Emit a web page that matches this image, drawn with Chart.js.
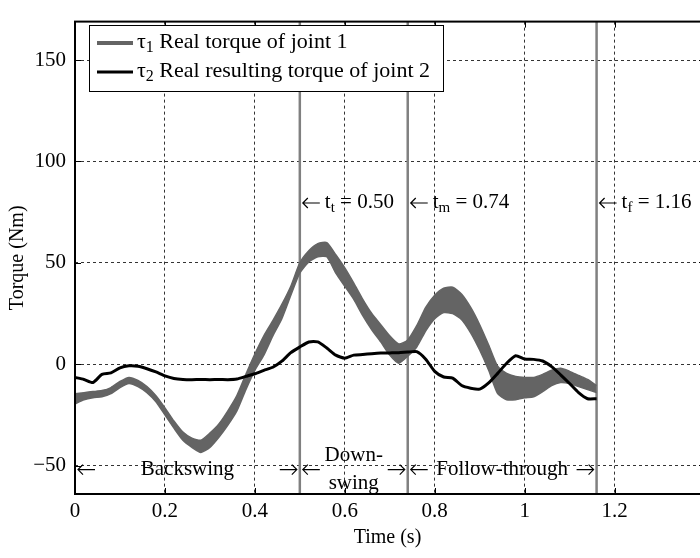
<!DOCTYPE html>
<html>
<head>
<meta charset="utf-8">
<script src="https://cdn.jsdelivr.net/npm/chart.js@4.4.1/dist/chart.umd.min.js"></script>
<style>
  html, body { margin: 0; padding: 0; background: #fff; }
  #wrap { width: 700px; height: 558px; }
</style>
</head>
<body>
<div id="wrap"><canvas id="torque-chart"></canvas></div>
<script>
// time samples (s)
const times = [0, 0.02, 0.04, 0.06, 0.08, 0.1, 0.12, 0.14, 0.16, 0.18,
  0.2, 0.22, 0.24, 0.26, 0.28, 0.3, 0.32, 0.34, 0.36, 0.38,
  0.4, 0.42, 0.44, 0.46, 0.48, 0.5, 0.52, 0.54, 0.56, 0.58,
  0.6, 0.62, 0.64, 0.66, 0.68, 0.7, 0.72, 0.74, 0.76, 0.78,
  0.8, 0.82, 0.84, 0.86, 0.88, 0.9, 0.92, 0.94, 0.96, 0.98,
  1, 1.02, 1.04, 1.06, 1.08, 1.1, 1.12, 1.14, 1.16];

// tau1 oscillates, so it is drawn as a band (upper / lower envelope)
const tau1Upper = [-14.5, -14, -13.5, -13, -11.5, -8.5, -6.5, -8, -11, -15.5,
  -21.5, -28, -33.5, -36.5, -37.5, -34, -29.5, -23, -15.5, -5,
  5, 14, 21.5, 29.5, 38.5, 50, 56, 59.5, 60, 54,
  47.5, 40, 32, 25, 19.5, 14, 10, 12, 19, 28,
  34, 37.5, 38, 34.5, 28, 19.5, 9.5, -1, -4.5, -6,
  -6.5, -6.5, -5, -3, -2, -3.5, -5.5, -7.5, -10.5];
const tau1Lower = [-19.5, -17.5, -16.5, -16, -14.5, -11.5, -9.5, -11, -14, -18.5,
  -25, -31.5, -37.5, -41, -43.5, -41, -36, -30, -23, -12.5,
  -3, 4.5, 14, 22.5, 34, 45, 50.5, 53, 53, 45,
  38.5, 32, 24, 17, 11, 4.5, 0.5, 4, 8.5, 16.5,
  22.5, 25.5, 25, 22, 15.5, 7, -3, -14.5, -17.5, -17.5,
  -16.5, -16, -13.5, -10.5, -9, -9.5, -11, -12.5, -14];
const tau2 = [-6.5, -7.5, -9, -5, -4.3, -1.8, -0.8, -1, -2.2, -3.8,
  -5.7, -7, -7.5, -7.6, -7.5, -7.6, -7.5, -7.6, -7.3, -6,
  -4.7, -3, -1.5, 1.5, 5.7, 8.5, 11, 11, 8, 4.5,
  3, 4.5, 4.8, 5.2, 5.5, 5.6, 5.7, 6, 6.2, 2.5,
  -3.5, -6.3, -6.8, -10.5, -11.8, -12.3, -9.2, -4.5, 0.5, 4.2,
  2.6, 2.4, 1.6, -1.2, -5.2, -9.5, -14, -17, -17];

const xTicks = [0, 0.2, 0.4, 0.6, 0.8, 1, 1.2];
const yTicks = [-50, 0, 50, 100, 150];

const eventTimes = [0.5, 0.74, 1.16];
const eventSubs = ['t', 'm', 'f'];
const eventTexts = [' = 0.50', ' = 0.74', ' = 1.16'];

const phaseStarts = [0, 0.5, 0.74];
const phaseEnds = [0.5, 0.74, 1.16];
const phaseNames = [['Backswing'], ['Down-', 'swing'], ['Follow-through']];

const legendSubs = ['1', '2'];
const legendTexts = [' Real torque of joint 1', ' Real resulting torque of joint 2'];

const GREY = '#646464';
const FONT = 'Liberation Serif';
Chart.defaults.font.family = FONT;
Chart.defaults.font.size = 19;
Chart.defaults.color = '#000';

// draws "base" + subscript + rest, returns x at end
function subText(ctx, x, y, base, sub, rest, size) {
  ctx.font = size + 'px ' + FONT;
  ctx.fillText(base, x, y);
  x += ctx.measureText(base).width;
  ctx.font = Math.round(size * 0.72) + 'px ' + FONT;
  ctx.fillText(sub, x, y + 6);
  x += ctx.measureText(sub).width;
  ctx.font = size + 'px ' + FONT;
  ctx.fillText(rest, x, y);
  return x + ctx.measureText(rest).width;
}

// thin arrow with its tip at xTip, pointing left (dir -1) or right (dir 1)
function arrow(ctx, xTip, y, dir) {
  const len = 17, head = 5;
  ctx.beginPath();
  ctx.moveTo(xTip - dir * len, y);
  ctx.lineTo(xTip, y);
  ctx.moveTo(xTip - dir * head, y - head);
  ctx.lineTo(xTip, y);
  ctx.lineTo(xTip - dir * head, y + head);
  ctx.stroke();
}

const overlay = {
  id: 'overlay',
  beforeDatasetsDraw(chart) {
    const { ctx, chartArea: a, scales: { x } } = chart;
    ctx.save();
    ctx.strokeStyle = '#808080';
    ctx.lineWidth = 2.5;
    eventTimes.forEach(t => {
      const px = x.getPixelForValue(t);
      ctx.beginPath();
      ctx.moveTo(px, a.top);
      ctx.lineTo(px, a.bottom);
      ctx.stroke();
    });
    ctx.restore();
  },
  afterDatasetsDraw(chart) {
    const { ctx, chartArea: a, scales: { x, y } } = chart;
    ctx.save();

    // inward tick marks
    ctx.strokeStyle = '#000';
    ctx.lineWidth = 1;
    ctx.beginPath();
    xTicks.forEach(v => {
      const px = Math.round(x.getPixelForValue(v)) + 0.5;
      ctx.moveTo(px, a.bottom); ctx.lineTo(px, a.bottom - 6);
      ctx.moveTo(px, a.top); ctx.lineTo(px, a.top + 6);
    });
    yTicks.forEach(v => {
      const py = Math.round(y.getPixelForValue(v)) + 0.5;
      ctx.moveTo(a.left, py); ctx.lineTo(a.left + 6, py);
    });
    ctx.stroke();

    // frame
    ctx.lineWidth = 2;
    ctx.strokeRect(a.left, a.top, a.right - a.left + 2, a.bottom - a.top);

    ctx.fillStyle = '#000';
    ctx.strokeStyle = '#000';
    ctx.lineWidth = 1.2;
    ctx.textBaseline = 'middle';

    // event labels
    ctx.textAlign = 'left';
    const ly = 203;
    eventTimes.forEach((t, i) => {
      const px = x.getPixelForValue(t) + 3;
      arrow(ctx, px, ly, -1);
      subText(ctx, px + 22, ly - 1, 't', eventSubs[i], eventTexts[i], 21);
    });

    // phase labels
    ctx.font = '21px ' + FONT;
    const py = y.getPixelForValue(-50) + 4;
    phaseStarts.forEach((s, i) => {
      const x0 = x.getPixelForValue(s);
      const x1 = x.getPixelForValue(phaseEnds[i]);
      arrow(ctx, x0 + 3, py, -1);
      arrow(ctx, x1 - 3, py, 1);
      ctx.textAlign = 'center';
      const names = phaseNames[i];
      const cx = (x0 + x1) / 2;
      if (names.length === 1) {
        ctx.fillText(names[0], cx, py);
      } else {
        ctx.fillText(names[0], cx, py - 14);
        ctx.fillText(names[1], cx, py + 14);
      }
    });

    // legend
    const bx = 89, by = 25, bw = 354, bh = 66;
    ctx.fillStyle = '#fff';
    ctx.fillRect(bx, by, bw, bh);
    ctx.strokeStyle = '#000';
    ctx.lineWidth = 1;
    ctx.strokeRect(bx + 0.5, by + 0.5, bw, bh);
    const rows = [{ color: GREY, w: 4 }, { color: '#000', w: 3 }];
    rows.forEach((r, i) => {
      const ry = by + 18 + i * 29;
      ctx.strokeStyle = r.color;
      ctx.lineWidth = r.w;
      ctx.beginPath();
      ctx.moveTo(bx + 8, ry);
      ctx.lineTo(bx + 44, ry);
      ctx.stroke();
      ctx.fillStyle = '#000';
      ctx.textAlign = 'left';
      subText(ctx, bx + 48, ry - 1, '\u03c4', legendSubs[i], legendTexts[i], 22);
    });

    ctx.restore();
  }
};

new Chart(document.getElementById('torque-chart'), {
  type: 'line',
  data: {
    labels: times,
    datasets: [
      {
        label: 'τ2 Real resulting torque of joint 2',
        data: tau2,
        borderColor: '#000',
        borderWidth: 3,
        pointRadius: 0,
        tension: 0.2,
        fill: false,
        order: 0
      },
      {
        label: 'τ1 upper',
        data: tau1Upper,
        borderColor: GREY,
        borderWidth: 1.5,
        pointRadius: 0,
        tension: 0.2,
        fill: false,
        order: 1
      },
      {
        label: 'τ1 Real torque of joint 1',
        data: tau1Lower,
        borderColor: GREY,
        backgroundColor: GREY,
        borderWidth: 1.5,
        pointRadius: 0,
        tension: 0.2,
        fill: '-1',
        order: 2
      }
    ]
  },
  options: {
    responsive: true,
    maintainAspectRatio: false,
    animation: false,
    layout: { padding: { top: 4, right: 0, left: 0, bottom: 0 } },
    plugins: {
      legend: { display: false },
      tooltip: { enabled: false }
    },
    scales: {
      x: {
        type: 'linear',
        min: 0,
        max: 1.39,
        afterBuildTicks: (s) => { s.ticks = xTicks.map(v => ({ value: v })); },
        afterFit: (s) => { s.height = 64; },
        grid: { color: '#000', lineWidth: 0.8, drawTicks: false },
        border: { display: false, dash: [3, 3] },
        ticks: { padding: 5, maxRotation: 0, font: { size: 21 }, callback: (v) => String(v) },
        title: { display: true, text: 'Time (s)', font: { size: 20 }, padding: { top: 0, bottom: 8 } }
      },
      y: {
        min: -64,
        max: 169,
        afterBuildTicks: (s) => { s.ticks = yTicks.map(v => ({ value: v })); },
        afterFit: (s) => { s.width = 75; },
        grid: { color: '#000', lineWidth: 0.8, drawTicks: false },
        border: { display: false, dash: [3, 3] },
        ticks: { padding: 9, font: { size: 21 }, callback: (v) => String(v).replace('-', '\u2212') },
        title: { display: true, text: 'Torque (Nm)', font: { size: 20 }, padding: { top: 6, bottom: 0 } }
      }
    }
  },
  plugins: [overlay]
});
</script>
</body>
</html>
